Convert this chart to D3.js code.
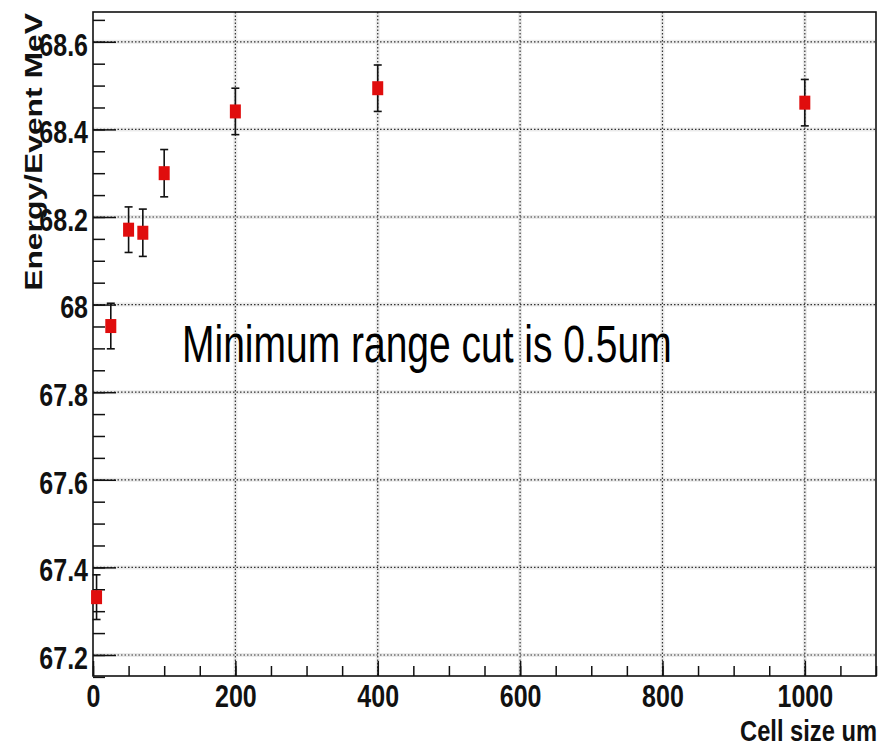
<!DOCTYPE html>
<html>
<head>
<meta charset="utf-8">
<script src="https://cdn.jsdelivr.net/npm/d3@7"></script>
<style>
  body { margin: 0; background: #fff; }
  svg { display: block; }
</style>
</head>
<body>
<div id="chart"></div>
<script>
// values
var cellSize = [5, 25, 50, 70, 100, 200, 400, 1000];
var energy = [67.332, 67.951, 68.171, 68.164, 68.300, 68.441, 68.494, 68.461];
var energyErr = [0.051, 0.052, 0.052, 0.054, 0.054, 0.053, 0.053, 0.053];

var xMajor = [0, 200, 400, 600, 800, 1000];
var xMinor = d3.range(0, 1101, 50);
var yMajor = [67.2, 67.4, 67.6, 67.8, 68, 68.2, 68.4, 68.6];
var yMajorLabels = ["67.2", "67.4", "67.6", "67.8", "68", "68.2", "68.4", "68.6"];
var yMinor = d3.range(67.15, 68.67, 0.05);

var width = 889, height = 747;
var plotL = 93, plotR = 876, plotT = 12, plotB = 676;

var svg = d3.select("#chart").append("svg")
    .attr("width", width)
    .attr("height", height);

var x = d3.scaleLinear().domain([0, 1100]).range([plotL, plotR]);
var y = d3.scaleLinear().domain([67.152, 68.668]).range([plotB, plotT]);

// grid (dotted, with a faint halo like the jpeg)
var xGrid = xMajor.filter(function(d) { return d > 0; });
var grid = svg.append("g");
grid.selectAll(".vh").data(xGrid)
    .enter().append("line")
    .attr("x1", function(d) { return x(d); }).attr("x2", function(d) { return x(d); })
    .attr("y1", plotT).attr("y2", plotB)
    .attr("stroke", "#ebebeb").attr("stroke-width", 4);
grid.selectAll(".hh").data(yMajor)
    .enter().append("line")
    .attr("x1", plotL).attr("x2", plotR)
    .attr("y1", function(d) { return y(d); }).attr("y2", function(d) { return y(d); })
    .attr("stroke", "#ebebeb").attr("stroke-width", 4);
grid.selectAll(".v").data(xGrid)
    .enter().append("line")
    .attr("x1", function(d) { return x(d); }).attr("x2", function(d) { return x(d); })
    .attr("y1", plotT).attr("y2", plotB)
    .attr("stroke", "#333").attr("stroke-width", 1.2)
    .attr("stroke-dasharray", "1.5,2");
grid.selectAll(".h").data(yMajor)
    .enter().append("line")
    .attr("x1", plotL).attr("x2", plotR)
    .attr("y1", function(d) { return y(d); }).attr("y2", function(d) { return y(d); })
    .attr("stroke", "#333").attr("stroke-width", 1.2)
    .attr("stroke-dasharray", "1.5,2");

// axes
svg.append("g")
    .attr("transform", "translate(" + plotL + ",0)")
    .call(d3.axisLeft(y).tickValues(yMinor).tickSizeInner(-12).tickSizeOuter(0).tickFormat(""));
var yAxis = svg.append("g")
    .attr("transform", "translate(" + plotL + ",0)")
    .call(d3.axisLeft(y).tickValues(yMajor).tickSizeInner(-23).tickSizeOuter(0).tickPadding(5)
        .tickFormat(function(d, i) { return yMajorLabels[i]; }));
svg.append("g")
    .attr("transform", "translate(0," + plotB + ")")
    .call(d3.axisBottom(x).tickValues(xMinor).tickSizeInner(-10).tickSizeOuter(0).tickFormat(""));
var xAxis = svg.append("g")
    .attr("transform", "translate(0," + plotB + ")")
    .call(d3.axisBottom(x).tickValues(xMajor).tickSizeInner(-15).tickSizeOuter(0).tickPadding(7.5)
        .tickFormat(d3.format("d")));

svg.selectAll(".domain").remove();
svg.selectAll(".tick line").attr("stroke", "#111").attr("stroke-width", 1.5);

yAxis.selectAll("text")
    .attr("dy", "0.43em")
    .attr("transform", "scale(1,1.23)")
    .style("font-family", "'Liberation Sans', Arial, sans-serif")
    .style("font-weight", "bold")
    .style("font-size", "25px")
    .attr("fill", "#111");
xAxis.selectAll("text")
    .attr("transform", "scale(1,1.23)")
    .style("font-family", "'Liberation Sans', Arial, sans-serif")
    .style("font-weight", "bold")
    .style("font-size", "25px")
    .attr("fill", "#111");

// frame
svg.append("rect")
    .attr("x", plotL).attr("y", plotT)
    .attr("width", plotR - plotL).attr("height", plotB - plotT)
    .attr("fill", "none").attr("stroke", "#111").attr("stroke-width", 1.6);

// titles
svg.append("text")
    .attr("transform", "translate(42,13) rotate(-90) scale(1.3,1)")
    .attr("text-anchor", "end")
    .style("font-family", "'Liberation Sans', Arial, sans-serif")
    .style("font-weight", "bold")
    .style("font-size", "24.5px")
    .attr("fill", "#111")
    .text("Energy/Event MeV");

svg.append("text")
    .attr("transform", "translate(877,741) scale(1,1.25)")
    .attr("text-anchor", "end")
    .style("font-family", "'Liberation Sans', Arial, sans-serif")
    .style("font-weight", "bold")
    .style("font-size", "23.7px")
    .attr("fill", "#111")
    .text("Cell size um");

svg.append("text")
    .attr("transform", "translate(182,361.7) scale(1,1.31)")
    .style("font-family", "'Liberation Sans', Arial, sans-serif")
    .style("font-size", "39px")
    .attr("fill", "#000")
    .text("Minimum range cut is 0.5um");

// error bars + markers
var pts = cellSize.map(function(c, i) { return { x: c, y: energy[i], e: energyErr[i] }; });

var err = svg.append("g").attr("stroke", "#111").attr("stroke-width", 1.6);
err.selectAll(".bar").data(pts).enter().append("line")
    .attr("x1", function(d) { return x(d.x); }).attr("x2", function(d) { return x(d.x); })
    .attr("y1", function(d) { return y(d.y - d.e); }).attr("y2", function(d) { return y(d.y + d.e); });
err.selectAll(".capt").data(pts).enter().append("line")
    .attr("x1", function(d) { return x(d.x) - 4; }).attr("x2", function(d) { return x(d.x) + 4; })
    .attr("y1", function(d) { return y(d.y + d.e); }).attr("y2", function(d) { return y(d.y + d.e); });
err.selectAll(".capb").data(pts).enter().append("line")
    .attr("x1", function(d) { return x(d.x) - 4; }).attr("x2", function(d) { return x(d.x) + 4; })
    .attr("y1", function(d) { return y(d.y - d.e); }).attr("y2", function(d) { return y(d.y - d.e); });

svg.selectAll(".marker").data(pts).enter().append("rect")
    .attr("x", function(d) { return x(d.x) - 5.5; })
    .attr("y", function(d) { return y(d.y) - 7; })
    .attr("width", 11).attr("height", 14)
    .attr("fill", "#e00d0d");
</script>
</body>
</html>
